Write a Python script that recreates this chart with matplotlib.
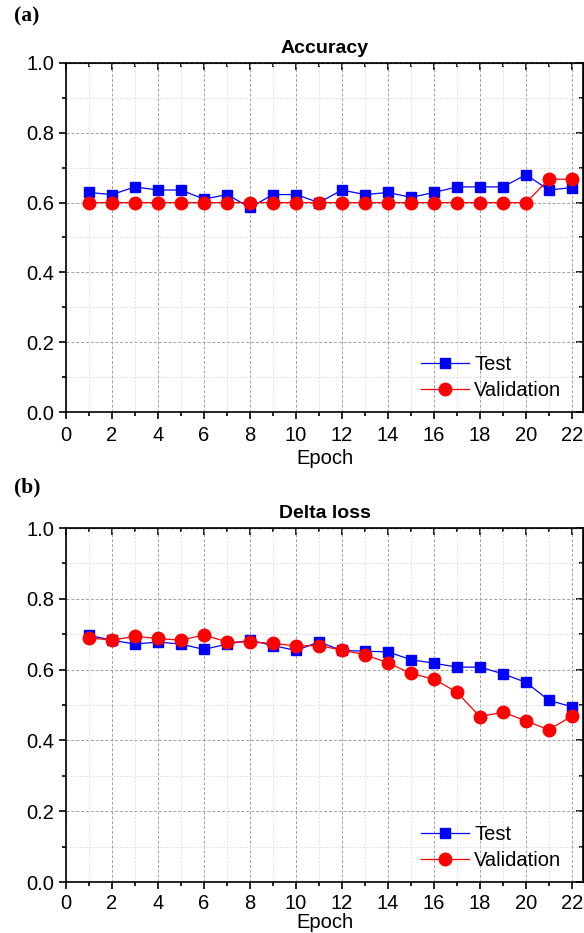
import matplotlib
matplotlib.use("Agg")
import matplotlib.pyplot as plt
from matplotlib.ticker import MultipleLocator

plt.rcParams['font.family'] = ['Liberation Sans', 'DejaVu Sans']

epochs = list(range(1, 23))
acc_test = [0.629, 0.623, 0.645, 0.636, 0.636, 0.610, 0.623, 0.586, 0.623, 0.623, 0.600,
            0.636, 0.623, 0.629, 0.615, 0.629, 0.645, 0.645, 0.645, 0.680, 0.636, 0.643]
acc_val = [0.600] * 20 + [0.667, 0.667]
loss_test = [0.697, 0.683, 0.672, 0.678, 0.672, 0.657, 0.672, 0.683, 0.668, 0.654, 0.678,
             0.654, 0.652, 0.650, 0.628, 0.618, 0.607, 0.607, 0.588, 0.564, 0.513, 0.495]
loss_val = [0.690, 0.683, 0.694, 0.688, 0.683, 0.698, 0.678, 0.678, 0.674, 0.667, 0.668,
            0.655, 0.642, 0.619, 0.589, 0.573, 0.536, 0.467, 0.480, 0.455, 0.430, 0.469]
titles = ["Accuracy", "Delta loss"]
panel_labels = ["(a)", "(b)"]
series_names = ["Test", "Validation"]

W, H = 584, 933
fig = plt.figure(figsize=(W / 100, H / 100), dpi=100)

def fx(px):
    return px / W

def fy(py):
    return 1 - py / H

axes_px = [(66, 583, 63, 412), (66, 583, 528, 882)]
data = [(acc_test, acc_val), (loss_test, loss_val)]
label_y = [16, 487]
xtick_pad = [5, 3.5]
xlabel_pad = [3, 0]

for i, (l, r, t, b) in enumerate(axes_px):
    ax = fig.add_axes([fx(l), fy(b), (r - l) / W, (b - t) / H])
    test, val = data[i]
    ax.plot(epochs, test, color='#0000FF', lw=0.9, marker='s', ms=7.5,
            mfc='#0000FF', mec='#0000FF', label=series_names[0], zorder=3)
    ax.plot(epochs, val, color='#FF0000', lw=0.9, marker='o', ms=9,
            mfc='#FF0000', mec='#FF0000', label=series_names[1], zorder=4)
    ax.set_xlim(0, 22.48)
    ax.set_ylim(0, 1.0)
    ax.xaxis.set_major_locator(MultipleLocator(2))
    ax.xaxis.set_minor_locator(MultipleLocator(1))
    ax.yaxis.set_major_locator(MultipleLocator(0.2))
    ax.yaxis.set_minor_locator(MultipleLocator(0.1))
    ax.yaxis.set_major_formatter(plt.FuncFormatter(lambda v, p: f"{v:.1f}"))
    ax.grid(which='major', color='#a0a0a0', ls=(0, (3, 2)), lw=0.7)
    ax.grid(which='minor', color='#d8d8d8', ls=(0, (2, 2)), lw=0.6)
    ax.set_axisbelow(True)
    ax.tick_params(which='both', direction='out', top=False, right=False,
                   labelsize=14.5, width=1.2, colors='black')
    ax.tick_params(axis='x', which='major', pad=xtick_pad[i])
    ax.tick_params(which='major', length=5)
    ax.tick_params(which='minor', length=3)
    ax2 = ax.secondary_xaxis('top')
    ax2.xaxis.set_major_locator(MultipleLocator(2))
    ax2.xaxis.set_minor_locator(MultipleLocator(1))
    ax2.tick_params(which='both', direction='in', labeltop=False, width=1.2)
    ax2.tick_params(which='major', length=5)
    ax2.tick_params(which='minor', length=3)
    ay2 = ax.secondary_yaxis('right')
    ay2.yaxis.set_major_locator(MultipleLocator(0.2))
    ay2.yaxis.set_minor_locator(MultipleLocator(0.1))
    ay2.tick_params(which='both', direction='in', labelright=False, width=1.2)
    ay2.tick_params(which='major', length=5)
    ay2.tick_params(which='minor', length=3)
    for s in ax.spines.values():
        s.set_linewidth(1.2)
    ax.set_xlabel("Epoch", fontsize=14.5, labelpad=xlabel_pad[i])
    ax.set_title(titles[i], fontsize=14, fontweight='bold', pad=7)
    ax.legend(loc='lower right', frameon=False, fontsize=14.5,
              handlelength=2.4, handletextpad=0.25, labelspacing=0.35,
              bbox_to_anchor=(0.985, -0.005), borderaxespad=0.3)
    fig.text(fx(14), fy(label_y[i]), panel_labels[i], fontsize=15.5,
             family=['Liberation Serif', 'DejaVu Serif'], fontweight='bold',
             va='center', ha='left')

fig.savefig("out.png", dpi=100)
